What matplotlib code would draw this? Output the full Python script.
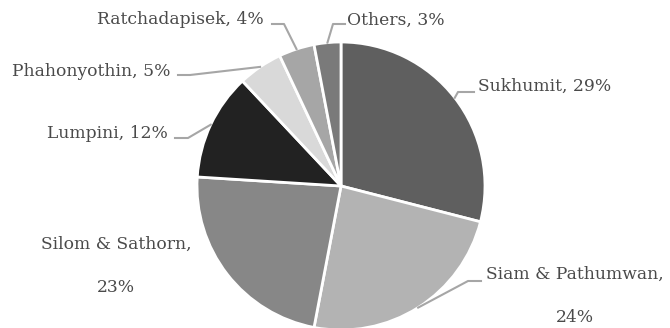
import numpy as np
import matplotlib.pyplot as plt

# office submarkets, share of stock (%)
districts = ["Sukhumit", "Siam & Pathumwan", "Silom & Sathorn", "Lumpini",
             "Phahonyothin", "Ratchadapisek", "Others"]
shares = [29, 24, 23, 12, 5, 4, 3]
colors = ["#5f5f5f", "#b3b3b3", "#878787", "#222222", "#d9d9d9", "#a6a6a6", "#7a7a7a"]

W, H = 670, 328
CX, CY, R = 341, 186, 144   # pie centre / radius in pixels


def px(x, y):
    # pixel position -> data units of the pie
    return (x - CX) / R, (CY - y) / R


fig = plt.figure(figsize=(W / 100, H / 100), dpi=100)
ax = fig.add_axes([0, 0, 1, 1])

wedges, _ = ax.pie(shares, colors=colors, startangle=90, counterclock=False,
                   radius=1.0, wedgeprops=dict(edgecolor="white", linewidth=2))

ax.set_xlim(-CX / R, (W - CX) / R)
ax.set_ylim((CY - H) / R, CY / R)
ax.set_aspect("auto")
ax.axis("off")

font = dict(family="DejaVu Serif", fontsize=12.3, color="#4a4a4a")
line_kw = dict(color="#a6a6a6", lw=1.5)

# label text anchor (px), alignment, elbow start (px), elbow end (px)
labels = {
    "Sukhumit": ((478, 86), "left", (474, 92), (458, 92)),
    "Siam & Pathumwan": ((575, 296), "center", (481, 281), (468, 281)),
    "Silom & Sathorn": ((116, 266), "center", None, None),
    "Lumpini": ((168, 133), "right", (175, 138), (188, 138)),
    "Phahonyothin": ((171, 71), "right", (178, 75), (190, 75)),
    "Ratchadapisek": ((264, 20), "right", (272, 24), (284, 24)),
    "Others": ((347, 20), "left", (345, 24), (333, 24)),
}

for w, name, val in zip(wedges, districts, shares):
    (tx, ty), ha, p0, p1 = labels[name]
    if ha == "center":
        txt = f"{name},\n{val}%"
        ax.text(*px(tx, ty), txt, ha="center", va="center", linespacing=3.05, **font)
    else:
        ax.text(*px(tx, ty), f"{name}, {val}%", ha=ha, va="center", **font)
    if p0 is None:
        continue
    ang = np.deg2rad((w.theta1 + w.theta2) / 2)
    ex, ey = np.cos(ang), np.sin(ang)
    a, b = px(*p0), px(*p1)
    ax.plot([a[0], b[0], ex], [a[1], b[1], ey], **line_kw)

fig.savefig("out.png", dpi=100)
